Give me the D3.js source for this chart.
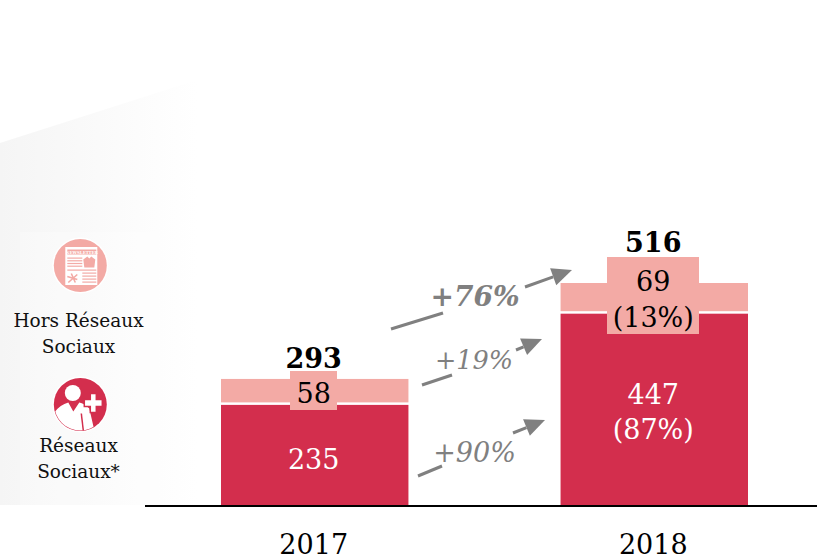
<!DOCTYPE html>
<html>
<head>
<meta charset="utf-8">
<script src="https://cdn.jsdelivr.net/npm/d3@7"></script>
<style>
  html, body { margin: 0; padding: 0; background: #fff; }
  text { font-family: "DejaVu Serif", serif; }
</style>
</head>
<body>
<svg id="mysvg" width="817" height="560"></svg>
<script>
const years = ['2017', '2018'];
const reseaux = [235, 447];
const horsReseaux = [58, 69];
const totals = [293, 516];
const reseauxLabels = [['235'], ['447', '(87%)']];
const horsLabels = [['58'], ['69', '(13%)']];
const growthLabels = ['+76%', '+19%', '+90%'];
const legendLabels = [['Hors Réseaux', 'Sociaux'], ['Réseaux', 'Sociaux*']];

const RED = '#d32e4d', PINK = '#f3aaa5', GREY = '#808080';
const baseline = 505;

const svg = d3.select('#mysvg');

const x_Scale = d3.scaleBand().domain(years).range([221, 748]).paddingInner(0.448);
const y_Scale = d3.scaleLinear().domain([0, 516]).range([baseline, 283]);

const rows = years.map((year, i) => ({
  year,
  red: reseaux[i],
  pink: horsReseaux[i],
  total: totals[i],
  redLabel: reseauxLabels[i],
  pinkLabel: horsLabels[i]
}));

// grey fade behind the legend
const defs = svg.append('defs');
const fade = defs.append('linearGradient').attr('id', 'fade');
fade.append('stop').attr('offset', 0).attr('stop-color', '#f5f5f5');
fade.append('stop').attr('offset', 1).attr('stop-color', '#ffffff');
defs.append('clipPath').attr('id', 'iconClip').append('circle').attr('r', 26);
svg.append('path')
  .attr('d', 'M0,143 L197,80 L197,505 L0,505 Z')
  .attr('fill', 'url(#fade)');
svg.append('rect').attr('x', 20).attr('y', 232).attr('width', 177).attr('height', 273)
  .attr('fill', '#fff').attr('opacity', 0.25);

// bars
svg.selectAll('.redBar').data(rows).join('rect').attr('class', 'redBar')
  .attr('x', d => x_Scale(d.year))
  .attr('width', x_Scale.bandwidth())
  .attr('y', d => y_Scale(d.red) + 1)
  .attr('height', d => baseline - y_Scale(d.red) - 1)
  .attr('fill', RED);

svg.selectAll('.pinkBar').data(rows).join('rect').attr('class', 'pinkBar')
  .attr('x', d => x_Scale(d.year))
  .attr('width', x_Scale.bandwidth())
  .attr('y', d => y_Scale(d.red + d.pink))
  .attr('height', d => y_Scale(d.red) - y_Scale(d.red + d.pink) - 1.5)
  .attr('fill', PINK);

// pink boxes under the labels, wider for the two line one
const boxLeft = [290, 607];
const boxRight = [337, 699];
const boxTop = [371, 257];
const boxBottom = [410, 334];
svg.selectAll('.labelBox').data(rows).join('rect').attr('class', 'labelBox')
  .attr('x', (d, i) => boxLeft[i])
  .attr('width', (d, i) => boxRight[i] - boxLeft[i])
  .attr('y', (d, i) => boxTop[i])
  .attr('height', (d, i) => boxBottom[i] - boxTop[i])
  .attr('fill', PINK);

function centerX(d) { return x_Scale(d.year) + x_Scale.bandwidth() / 2 - 1; }

// value labels
const redY = [[469], [404, 439]];
const pinkY = [[403], [291, 327]];
rows.forEach((d, i) => {
  d.redLabel.forEach((t, j) => {
    svg.append('text').text(t).attr('x', centerX(d)).attr('y', redY[i][j])
      .attr('text-anchor', 'middle').attr('font-size', 27).attr('fill', '#fff');
  });
  d.pinkLabel.forEach((t, j) => {
    svg.append('text').text(t).attr('x', centerX(d)).attr('y', pinkY[i][j])
      .attr('text-anchor', 'middle').attr('font-size', 27).attr('fill', '#000');
  });
});

const totalY = [368, 252];
svg.selectAll('.total').data(rows).join('text').attr('class', 'total')
  .text(d => d.total)
  .attr('x', centerX)
  .attr('y', (d, i) => totalY[i])
  .attr('text-anchor', 'middle')
  .attr('font-size', 27)
  .attr('font-weight', 'bold')
  .attr('fill', '#000');

// axis
const axis = svg.append('g').attr('transform', `translate(-1,${baseline + 1})`)
  .call(d3.axisBottom(x_Scale).tickSize(0).tickPadding(29));
axis.select('.domain').remove();
axis.selectAll('text').attr('font-size', 27).attr('font-family', '"DejaVu Serif", serif').attr('fill', '#000');
axis.append('line').attr('x1', 146).attr('x2', 818).attr('stroke', '#000').attr('stroke-width', 2);

// growth arrows, broken where the label sits
const arrowLine = d3.line();
const growthArrows = [
  { from: [391, 329], stop: [443, 313], resume: [525, 287], tip: [572, 270], tx: 475, ty: 306, size: 28, weight: 'bold' },
  { from: [422, 385], stop: [452, 375], resume: [516, 350], tip: [542, 339], tx: 474, ty: 369, size: 25.5, weight: 'normal' },
  { from: [418, 476], stop: [442, 466], resume: [513, 433], tip: [545, 420], tx: 474.5, ty: 462, size: 27, weight: 'normal' }
];
growthArrows.forEach((a, i) => {
  const angle = Math.atan2(a.tip[1] - a.resume[1], a.tip[0] - a.resume[0]);
  const head = 20;
  const neck = [a.tip[0] - head * Math.cos(angle), a.tip[1] - head * Math.sin(angle)];
  const wing = 9;
  svg.append('path').attr('d', arrowLine([a.from, a.stop]))
    .attr('stroke', GREY).attr('stroke-width', 3).attr('fill', 'none');
  svg.append('path').attr('d', arrowLine([a.resume, neck]))
    .attr('stroke', GREY).attr('stroke-width', 3).attr('fill', 'none');
  svg.append('path').attr('d', arrowLine([
      a.tip,
      [neck[0] - wing * Math.sin(angle), neck[1] + wing * Math.cos(angle)],
      [neck[0] + wing * Math.sin(angle), neck[1] - wing * Math.cos(angle)]
    ]) + 'Z').attr('fill', GREY);
  svg.append('text').text(growthLabels[i]).attr('x', a.tx).attr('y', a.ty)
    .attr('text-anchor', 'middle').attr('font-size', a.size)
    .attr('font-weight', a.weight).attr('font-style', 'italic').attr('fill', GREY);
});

// legend icons
const newsIcon = svg.append('g').attr('transform', 'translate(80.3,265.5)');
newsIcon.append('circle').attr('r', 28).attr('fill', '#fff');
newsIcon.append('circle').attr('r', 26.5).attr('fill', PINK);
newsIcon.append('rect').attr('x', -15).attr('y', -18.5).attr('width', 32).attr('height', 38).attr('fill', '#fff');
newsIcon.append('rect').attr('x', -13).attr('y', -16).attr('width', 29).attr('height', 5).attr('fill', PINK);
newsIcon.append('text').text('NEWSLETTER').attr('x', 1.5).attr('y', -11.8)
  .attr('text-anchor', 'middle').attr('font-size', 4).attr('font-weight', 'bold').attr('fill', '#fff');
newsIcon.selectAll('.l1').data(d3.range(4)).join('rect').attr('class', 'l1')
  .attr('x', -13).attr('width', 15).attr('height', 1.2).attr('fill', PINK)
  .attr('y', d => -8 + d * 2.7);
newsIcon.append('path').attr('d', 'M3,-6 L7,-9 L9,-7 L11,-9 L15,-6 L14,2 L4,2 Z').attr('fill', PINK);
newsIcon.append('rect').attr('x', -13).attr('y', 4).attr('width', 29).attr('height', 1.2).attr('fill', PINK);
newsIcon.selectAll('.l2').data(d3.range(4)).join('rect').attr('class', 'l2')
  .attr('x', 2).attr('width', 14).attr('height', 1.2).attr('fill', PINK)
  .attr('y', d => 7 + d * 3);
newsIcon.append('path').attr('d', 'M-12,17 L-3,9 M-9,8 L-5,17 M-13,11 L-3,14').attr('stroke', PINK).attr('stroke-width', 1.6);

const userIcon = svg.append('g').attr('transform', 'translate(80.3,404.5)');
userIcon.append('circle').attr('r', 28).attr('fill', '#fff');
userIcon.append('circle').attr('r', 26.5).attr('fill', RED);
userIcon.append('circle').attr('cx', -7.5).attr('cy', -11.5).attr('r', 8).attr('fill', '#fff');
userIcon.append('path').attr('clip-path', 'url(#iconClip)')
  .attr('d', 'M-26,8 Q-20,0 -12,-2 L-7,7 L-1,-2 Q4,-1 9,4 L15,30 L-26,30 Z').attr('fill', '#fff');
userIcon.append('path').attr('d', 'M1,9 L3,26').attr('stroke', RED).attr('stroke-width', 1.5);
userIcon.append('path').attr('d', 'M4,-5 H10 V-11 H16 V-5 H22 V2 H16 V8 H10 V2 H4 Z')
  .attr('fill', '#fff').attr('stroke', RED).attr('stroke-width', 1.5);

// legend text
const legendY = [[327, 353], [452, 478]];
legendLabels.forEach((lines, i) => {
  lines.forEach((t, j) => {
    svg.append('text').text(t).attr('x', 78.5).attr('y', legendY[i][j])
      .attr('text-anchor', 'middle').attr('font-size', 18.5).attr('fill', '#111');
  });
});
</script>
</body>
</html>
